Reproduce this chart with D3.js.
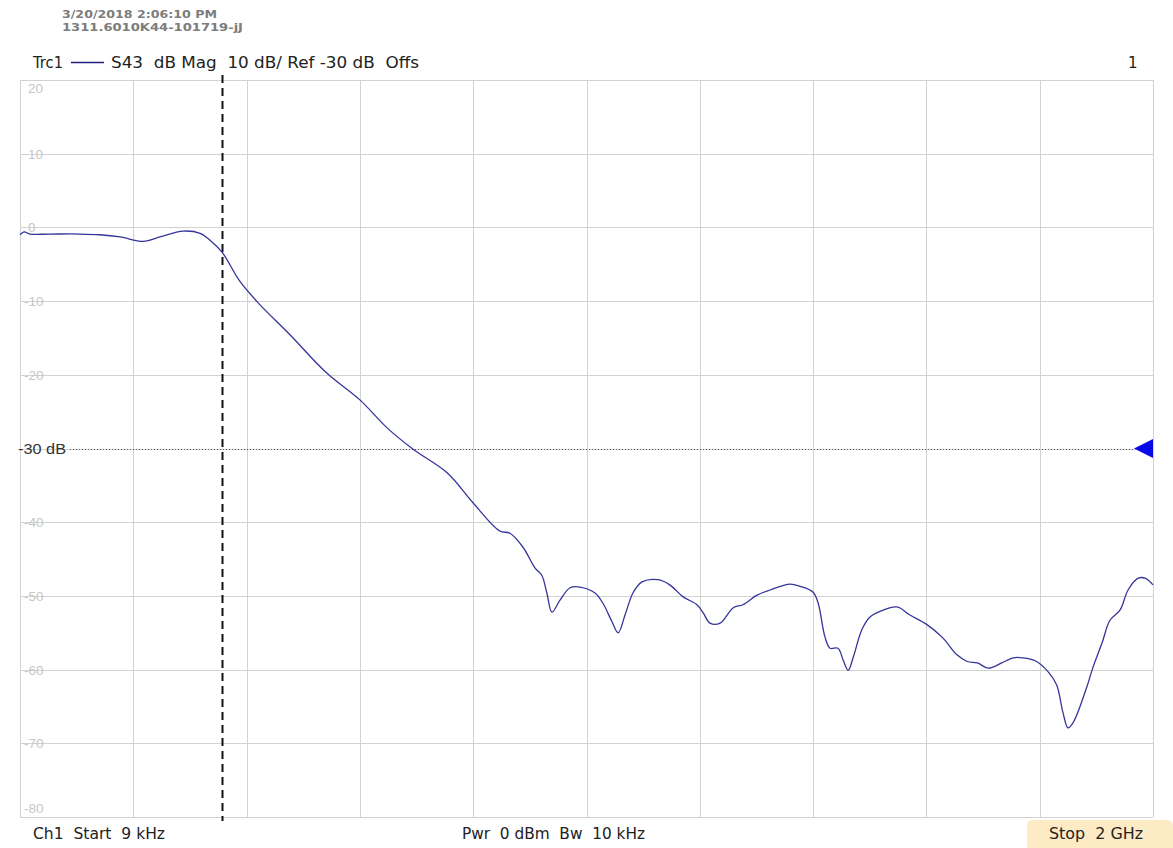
<!DOCTYPE html>
<html>
<head>
<meta charset="utf-8">
<script src="https://cdn.jsdelivr.net/npm/d3@7"></script>
<style>
  html, body { margin: 0; padding: 0; background: #ffffff; }
  svg { display: block; }
</style>
</head>
<body>
<svg id="chart" width="1173" height="848"></svg>
<script>
// S43 transmission magnitude, 9 kHz .. 2 GHz sweep
const headerLines = ["3/20/2018 2:06:10 PM", "1311.6010K44-101719-jJ"];
const traceName = "Trc1";
const traceInfo = "S43  dB Mag  10 dB/ Ref -30 dB  Offs";
const channelNo = "1";
const footerStart = "Ch1  Start  9 kHz";
const footerMid = "Pwr  0 dBm  Bw  10 kHz";
const footerStop = "Stop  2 GHz";

const startMHz = 0.009;
const stopMHz = 2000;
const refLevelDb = -30;
const refLabel = "-30 dB";
const markerMHz = 357;

const yTicks = [20, 10, 0, -10, -20, -30, -40, -50, -60, -70, -80];

const freqMHz = [
  0.009, 7.1, 17.7, 53, 106, 141, 177, 218, 247, 288, 318, 335, 357, 388, 420,
  477, 542, 600, 648, 694, 754, 800, 847, 865, 888, 909, 921, 930, 939, 953,
  971, 988, 1015, 1029, 1045, 1056, 1068, 1082, 1098, 1126, 1147, 1170, 1195,
  1206, 1218, 1236, 1259, 1276, 1301, 1324, 1359, 1377, 1400, 1409, 1421, 1430,
  1444, 1453, 1462, 1471, 1486, 1500, 1518, 1548, 1571, 1601, 1629, 1654, 1672,
  1690, 1709, 1733, 1753, 1770, 1792, 1815, 1830, 1841, 1850, 1859, 1883, 1894,
  1910, 1924, 1942, 1956, 1974, 1986, 2000
];
const magDb = [
  -1.0, -0.6, -0.9, -0.9, -0.9, -1.0, -1.3, -1.9, -1.3, -0.5, -0.8, -1.7, -3.4, -7.3, -10.2,
  -14.6, -19.8, -23.4, -27.2, -30.1, -33.3, -37.4, -41.2, -41.5, -43.4, -46.2, -47.2, -49.6, -52.2, -50.6,
  -48.9, -48.8, -49.6, -51.0, -53.5, -55.0, -52.6, -49.6, -48.1, -47.8, -48.5, -50.1, -51.2,
  -52.3, -53.7, -53.7, -51.6, -51.2, -49.9, -49.2, -48.4, -48.7, -49.5, -51.0, -55.6, -57.1,
  -57.1, -58.7, -60.1, -58.3, -54.6, -52.9, -52.1, -51.5, -52.6, -53.9, -55.7, -58.0, -58.9,
  -59.1, -59.8, -59.1, -58.4, -58.4, -58.8, -60.3, -62.1, -65.8, -67.9, -67.2, -62.4, -59.7,
  -56.4, -53.3, -51.9, -49.2, -47.6, -47.6, -48.5
];

const svg = d3.select("#chart");
const plot = { left: 20, right: 1153, top: 80, bottom: 817 };

const x = d3.scaleLinear().domain([startMHz, stopMHz]).range([plot.left, plot.right]);
const y = d3.scaleLinear().domain([-80, 20]).range([plot.bottom, plot.top]);

const uiFont = "'DejaVu Sans', Verdana, sans-serif";
const numFont = "'Liberation Sans', Arial, sans-serif";

// plain status-bar style label
function label(txt, px, py, width, opts = {}) {
  const t = svg.append("text")
    .attr("x", px).attr("y", py)
    .attr("font-family", opts.font || uiFont)
    .attr("font-size", opts.size || 15)
    .attr("font-weight", opts.weight || "normal")
    .attr("fill", opts.fill || "#222")
    .style("white-space", "pre")
    .text(txt);
  if (width) t.attr("textLength", width).attr("lengthAdjust", "spacingAndGlyphs");
  return t;
}

// header lines
label(headerLines[0], 62, 18, 155, { size: 11, weight: "bold", fill: "#7d7d7d" });
label(headerLines[1], 62, 31, 181, { size: 11, weight: "bold", fill: "#7d7d7d" });

// trace legend
label(traceName, 33, 68, 30);
svg.append("line").attr("x1", 71).attr("x2", 104).attr("y1", 62.5).attr("y2", 62.5)
  .attr("stroke", "#1c1c80").attr("stroke-width", 1.5);
label(traceInfo, 111, 68, 308);
label(channelNo, 1128, 68, null);

// grid
const xGrid = d3.range(0, 11).map(i => startMHz + i * (stopMHz - startMHz) / 10);
const grid = svg.append("g");
grid.selectAll("line.v").data(xGrid).join("line")
  .attr("x1", d => Math.round(x(d)) + 0.5).attr("x2", d => Math.round(x(d)) + 0.5)
  .attr("y1", plot.top).attr("y2", plot.bottom)
  .attr("stroke", "#d2d2d2").attr("stroke-width", 1);
grid.selectAll("line.h").data(yTicks).join("line")
  .attr("x1", plot.left).attr("x2", plot.right)
  .attr("y1", d => Math.round(y(d)) + 0.5).attr("y2", d => Math.round(y(d)) + 0.5)
  .attr("stroke", "#d2d2d2").attr("stroke-width", 1);

// y tick labels (the reference level gets its own label)
svg.selectAll("text.ytick").data(yTicks.filter(d => d !== refLevelDb)).join("text")
  .attr("class", "ytick")
  .attr("x", d => d < 0 ? 24 : 28)
  .attr("y", d => d === 20 ? y(d) + 13 : d === -80 ? y(d) - 4 : y(d) + 5)
  .attr("font-family", numFont).attr("font-size", 13.5).attr("fill", "#c6c6c6")
  .text(d => d);

// reference level line, label and arrow
svg.append("line")
  .attr("x1", 70).attr("x2", 1135)
  .attr("y1", Math.round(y(refLevelDb)) + 0.5).attr("y2", Math.round(y(refLevelDb)) + 0.5)
  .attr("stroke", "#555").attr("stroke-width", 1).attr("stroke-dasharray", "1,2");
label(refLabel, 18, y(refLevelDb) + 5.5, 48, { font: numFont, size: 15, fill: "#333" });
const ry = y(refLevelDb);
svg.append("path")
  .attr("d", `M${plot.right},${ry - 9.5} L${plot.right - 19},${ry} L${plot.right},${ry + 9.5} Z`)
  .attr("fill", "#0a0ae6");

// marker line
svg.append("line")
  .attr("x1", Math.round(x(markerMHz)) + 0.5).attr("x2", Math.round(x(markerMHz)) + 0.5)
  .attr("y1", 75).attr("y2", 821)
  .attr("stroke", "#111").attr("stroke-width", 2).attr("stroke-dasharray", "8,5");

// trace
const pts = freqMHz.map((f, i) => [f, magDb[i]]);
const line = d3.line().x(d => x(d[0])).y(d => y(d[1])).curve(d3.curveCatmullRom.alpha(0.5));
svg.append("path").datum(pts)
  .attr("d", line)
  .attr("fill", "none").attr("stroke", "#34349a").attr("stroke-width", 1.3);

// footer
label(footerStart, 33, 839, 132);
label(footerMid, 462, 839, 183);
svg.append("path")
  .attr("d", "M1027,848 L1027,826 Q1027,820 1033,820 L1167,820 Q1173,820 1173,826 L1173,848 Z")
  .attr("fill", "#fdebc6");
label(footerStop, 1049, 839, 94);
</script>
</body>
</html>
